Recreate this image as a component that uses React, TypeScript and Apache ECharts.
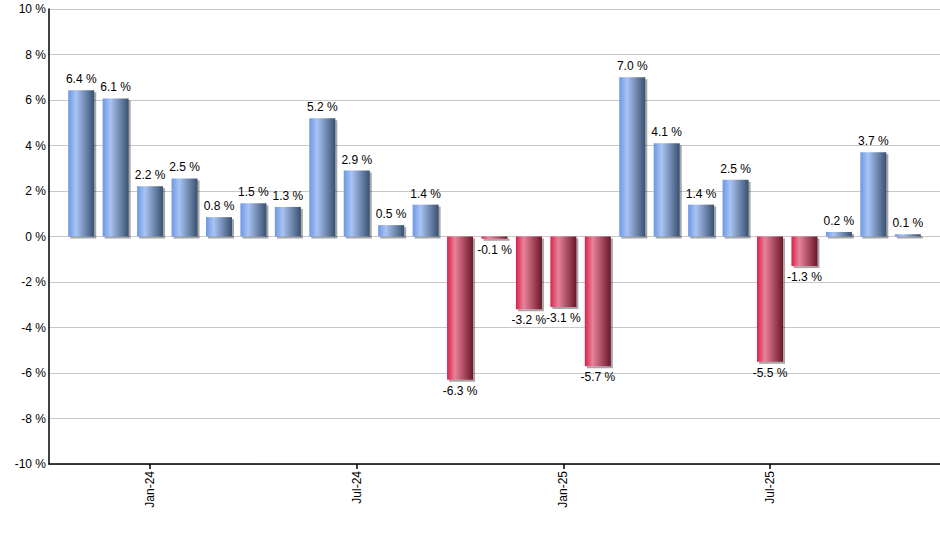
import * as echarts from "echarts";
import { useEffect, useRef } from "react";

const months = [
  "Nov-23", "Dec-23", "Jan-24", "Feb-24", "Mar-24", "Apr-24", "May-24", "Jun-24", "Jul-24",
  "Aug-24", "Sep-24", "Oct-24", "Nov-24", "Dec-24", "Jan-25", "Feb-25", "Mar-25", "Apr-25",
  "May-25", "Jun-25", "Jul-25", "Aug-25", "Sep-25", "Oct-25", "Nov-25"
];
const returns = [
  6.43, 6.07, 2.21, 2.55, 0.85, 1.46, 1.3, 5.2, 2.9, 0.5, 1.4, -6.3, -0.1,
  -3.2, -3.1, -5.7, 7.0, 4.1, 1.4, 2.5, -5.5, -1.3, 0.2, 3.7, 0.1
];
const labelledMonths = ["Jan-24", "Jul-24", "Jan-25", "Jul-25"];

const FONT = '"Liberation Sans", Arial, sans-serif';

const blueFill = new echarts.graphic.LinearGradient(0, 0, 1, 0, [
  { offset: 0, color: "#6c97e4" },
  { offset: 0.3, color: "#a9c4f3" },
  { offset: 1, color: "#39506f" }
]);
const redFill = new echarts.graphic.LinearGradient(0, 0, 1, 0, [
  { offset: 0, color: "#d8224a" },
  { offset: 0.3, color: "#e8829a" },
  { offset: 1, color: "#6a1729" }
]);

const showMonth = (index: number) => labelledMonths.includes(months[index]);

export default function App() {
  const ref = useRef<HTMLDivElement | null>(null);

  useEffect(() => {
    if (!ref.current) return;
    const chart = echarts.init(ref.current, undefined, { renderer: "svg" });
    chart.setOption({
      animation: false,
      textStyle: { fontFamily: FONT },
      grid: [
        { left: 49, right: 0, top: 9, bottom: 86 },
        { left: 64, right: 15, top: 9, bottom: 86 }
      ],
      xAxis: [
        {
          type: "value",
          gridIndex: 0,
          min: 0,
          max: 1,
          axisLine: { show: true, onZero: false, lineStyle: { color: "#000", width: 1.5 } },
          axisTick: { show: false },
          axisLabel: { show: false },
          splitLine: { show: false }
        },
        {
          type: "category",
          gridIndex: 1,
          data: months,
          axisLine: { show: false, onZero: false },
          axisTick: {
            show: true,
            alignWithLabel: true,
            length: 5,
            interval: (index: number) => showMonth(index),
            lineStyle: { color: "#000", width: 1.5 }
          },
          axisLabel: {
            rotate: 90,
            margin: 7,
            interval: (index: number) => showMonth(index),
            color: "#000",
            fontSize: 12,
            fontFamily: FONT
          },
          splitLine: { show: false }
        }
      ],
      yAxis: [
        {
          type: "value",
          gridIndex: 0,
          min: -10,
          max: 10,
          interval: 2,
          axisLine: { show: true, onZero: false, lineStyle: { color: "#000", width: 1.5 } },
          axisTick: { show: false },
          axisLabel: {
            margin: 3,
            color: "#000",
            fontSize: 12,
            fontFamily: FONT,
            formatter: (v: number) => `${v} %`
          },
          splitLine: { show: true, lineStyle: { color: "#c8c8c8", width: 1 } }
        },
        {
          type: "value",
          gridIndex: 1,
          min: -10,
          max: 10,
          show: false,
          splitLine: { show: false }
        }
      ],
      series: [
        {
          type: "bar",
          xAxisIndex: 1,
          yAxisIndex: 1,
          barWidth: 26,
          data: returns.map((v) => ({
            value: v,
            itemStyle: { color: v < 0 ? redFill : blueFill },
            label: { position: v < 0 ? "bottom" : "top" }
          })),
          itemStyle: {
            shadowColor: "rgba(0,0,0,0.35)",
            shadowOffsetX: 2,
            shadowOffsetY: 2,
            shadowBlur: 1
          },
          label: {
            show: true,
            distance: 5,
            color: "#000",
            fontSize: 12,
            fontFamily: FONT,
            formatter: (p: { value: number }) => `${p.value.toFixed(1)} %`
          }
        }
      ]
    });
    return () => chart.dispose();
  }, []);

  return (
    <div
      ref={ref}
      style={{ position: "fixed", left: 0, top: 0, width: 940, height: 550, background: "#fff" }}
    />
  );
}
